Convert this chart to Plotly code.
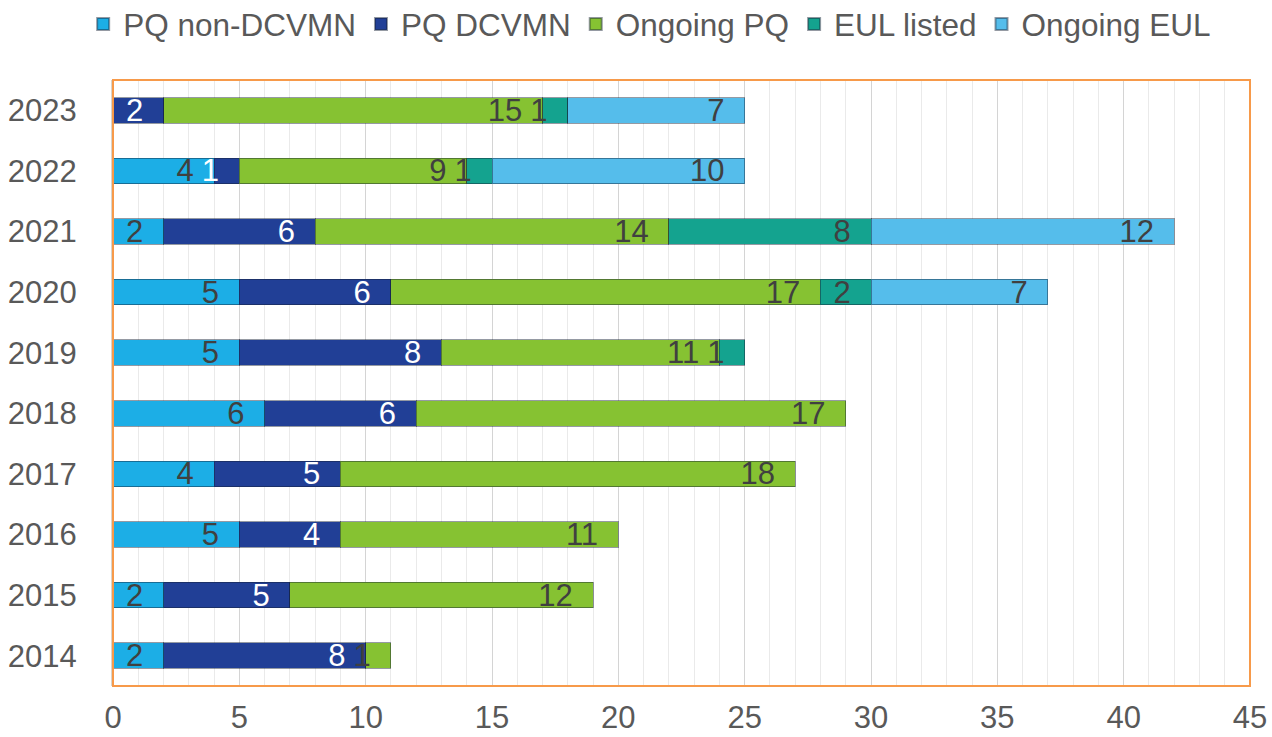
import plotly.graph_objects as go

years = ["2014", "2015", "2016", "2017", "2018", "2019", "2020", "2021", "2022", "2023"]
pq_non_dcvmn = [2, 2, 5, 4, 6, 5, 5, 2, 4, None]
pq_dcvmn = [8, 5, 4, 5, 6, 8, 6, 6, 1, 2]
ongoing_pq = [1, 12, 11, 18, 17, 11, 17, 14, 9, 15]
eul_listed = [None, None, None, None, None, 1, 2, 8, 1, 1]
ongoing_eul = [None, None, None, None, None, None, 7, 12, 10, 7]

series = [
    ("PQ non-DCVMN", pq_non_dcvmn, "#1CAEE6", "#404040"),
    ("PQ DCVMN", pq_dcvmn, "#213F96", "#FFFFFF"),
    ("Ongoing PQ", ongoing_pq, "#86C232", "#404040"),
    ("EUL listed", eul_listed, "#14A38F", "#404040"),
    ("Ongoing EUL", ongoing_eul, "#55BDEB", "#404040"),
]

FONT = "Liberation Sans, Arial, sans-serif"

fig = go.Figure()
for name, vals, color, tcolor in series:
    fig.add_trace(go.Bar(
        y=years, x=vals, name=name, orientation="h",
        marker=dict(color=color, line=dict(color="rgba(20,30,50,0.45)", width=1)),
        texttemplate="%{x}\u00a0\u00a0", textposition="inside",
        insidetextanchor="end", constraintext="none", textangle=0,
        insidetextfont=dict(family=FONT, size=31, color=tcolor),
        cliponaxis=False,
    ))

fig.update_layout(
    width=1272, height=737,
    barmode="stack", bargap=0.58,
    paper_bgcolor="white", plot_bgcolor="white",
    margin=dict(l=113, r=22, t=80, b=51, autoexpand=False),
    font=dict(family=FONT, size=31, color="#595959"),
    showlegend=True,
    legend=dict(orientation="h", x=0.472, xanchor="center", y=1.137, yanchor="top",
                traceorder="normal", font=dict(family=FONT, size=31.5, color="#595959"),
                itemwidth=30, itemsizing="constant", bgcolor="rgba(0,0,0,0)"),
    xaxis=dict(range=[0, 45], dtick=5, tick0=0, showgrid=True, gridcolor="#D4D4D4", gridwidth=1,
               minor=dict(dtick=1, showgrid=True, gridcolor="#EAEAEA", gridwidth=1),
               zeroline=False, showline=False, ticks="", ticklabelstandoff=10, automargin=False,
               tickfont=dict(family=FONT, size=31, color="#595959")),
    yaxis=dict(type="category", showgrid=False, zeroline=False, showline=True, automargin=False,
               linecolor="#D9D4CC", linewidth=2, ticks="", ticklabelstandoff=28,
               tickfont=dict(family=FONT, size=31, color="#595959")),
    shapes=[dict(type="rect", xref="paper", yref="paper", x0=0, x1=1, y0=0, y1=1,
                 line=dict(color="#F79A4A", width=2), fillcolor="rgba(0,0,0,0)", layer="above")],
)

fig.write_html("out.html", config={"displayModeBar": False},
               post_script="document.body.style.margin='0';document.body.style.overflow='hidden';")
